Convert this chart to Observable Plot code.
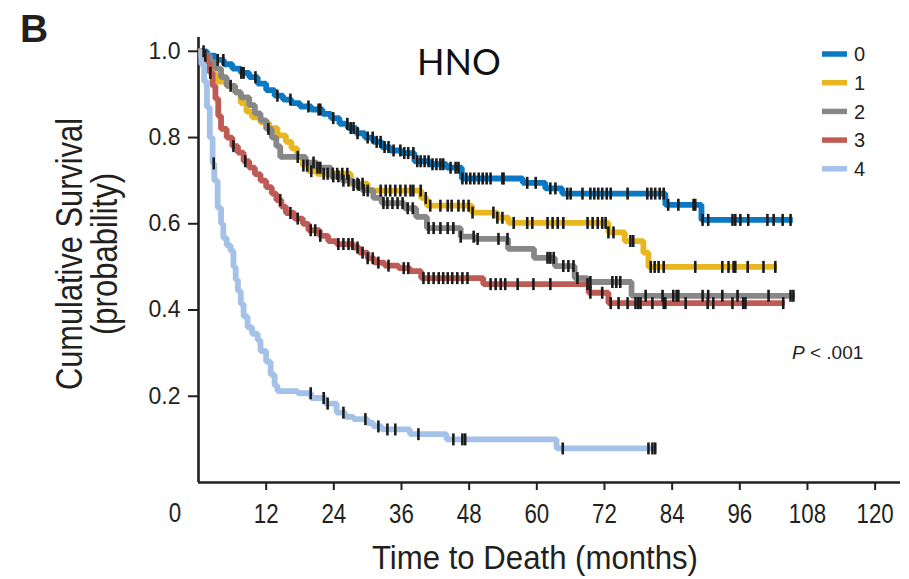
<!DOCTYPE html>
<html>
<head>
<meta charset="utf-8">
<script src="https://cdn.jsdelivr.net/npm/d3@7"></script>
<script src="https://cdn.jsdelivr.net/npm/@observablehq/plot@0.6"></script>
<style>
  html, body { margin: 0; padding: 0; background: #fff; }
  #chart svg { display: block; }
</style>
</head>
<body>
<div id="chart"></div>
<script>
// ---------- data ----------
const groups = ["0", "1", "2", "3", "4"];
const xTicks = [12, 24, 36, 48, 60, 72, 84, 96, 108, 120];
const yTicks = [0.2, 0.4, 0.6, 0.8, 1.0];

// group 0
const time0 = [0, 1.5, 3, 4.5, 6, 7.5, 9, 10.5, 12, 13.5, 15, 16.5, 18, 20, 22, 23.5, 25, 26.5, 28, 29.5, 31, 32.5, 34, 36, 38.3, 41, 44, 46.7, 57.5, 61.5, 64.5, 82.8, 89.2];
const surv0 = [1, .99, .98, .97, .96, .95, .94, .925, .91, .897, .888, .88, .872, .865, .855, .845, .832, .822, .81, .8, .79, .778, .77, .764, .745, .738, .73, .705, .695, .682, .67, .644, .609];
const cens0 = [0.9, 3.4, 4.4, 7.6, 8.0, 10.1, 14.0, 16.3, 19.5, 21.3, 21.6, 23.9, 26.4, 27.0, 27.5, 28.2, 30.0, 30.9, 31.6, 32.3, 33.0, 33.7, 34.6, 35.8, 36.5, 37.2, 38.1, 38.8, 39.4, 40.1, 40.8, 41.5, 42.2, 42.9, 43.4, 44.7, 45.6, 46.1, 46.8, 47.5, 48.2, 48.9, 49.7, 50.4, 51.1, 51.8, 53.9, 54.1, 58.3, 59.8, 62.4, 63.3, 65.4, 66.0, 68.1, 69.5, 70.2, 70.9, 71.6, 72.4, 73.1, 76.1, 79.6, 80.3, 81.0, 81.8, 82.5, 83.3, 85.1, 87.8, 88.1, 89.4, 90.4, 94.7, 95.2, 96.1, 97.5, 100.9, 102.0, 103.6, 105.0];
const last0 = 105.4;

// group 1
const time1 = [0, 0.5, 1.2, 2.5, 3.3, 5, 6.5, 7.5, 8.5, 9.5, 11, 12.5, 14, 15.5, 16.5, 17.5, 18.5, 19.5, 21, 27, 30, 39.5, 40.5, 48.5, 53, 55, 72.7, 75.6, 78.9, 79.8];
const surv1 = [1, .985, .96, .945, .93, .92, .905, .88, .86, .847, .835, .822, .805, .79, .775, .755, .735, .722, .716, .693, .677, .66, .642, .626, .614, .602, .58, .56, .533, .50];
const cens1 = [17.6, 18.6, 19.3, 20.0, 22.2, 22.9, 23.8, 24.6, 25.5, 26.4, 28.2, 29.1, 30.0, 32.3, 33.2, 34.0, 34.9, 35.8, 36.7, 37.6, 38.1, 39.4, 40.3, 41.1, 42.9, 44.2, 44.9, 46.1, 47.0, 47.9, 48.6, 52.3, 53.0, 53.9, 55.9, 58.3, 59.2, 61.9, 62.8, 63.7, 64.7, 69.0, 69.9, 70.8, 71.6, 72.2, 72.7, 73.6, 76.6, 77.1, 80.2, 80.9, 81.6, 82.5, 88.1, 92.9, 94.0, 94.9, 95.2, 97.4, 100.2, 102.3];
const last1 = 102.6;

// group 2
const time2 = [0, 1, 2, 3, 4, 5, 6.5, 7.5, 9, 10, 11, 12, 13, 13.8, 14.5, 19, 21, 23.5, 25.5, 27.5, 29, 31, 32.5, 36.5, 38.6, 40.5, 46.5, 49, 54.9, 59.5, 63.2, 66.7, 69, 76.8];
const surv2 = [1, .99, .975, .96, .94, .92, .905, .893, .875, .856, .84, .82, .8, .78, .755, .742, .73, .71, .70, .69, .678, .66, .648, .636, .616, .59, .57, .565, .542, .521, .502, .474, .465, .433];
const cens2 = [1.2, 5.7, 12.4, 20.4, 21.1, 21.6, 23.9, 24.8, 25.7, 26.6, 27.5, 28.4, 29.3, 32.8, 33.5, 34.4, 35.3, 36.2, 37.1, 38.0, 40.8, 41.7, 42.9, 44.2, 45.2, 46.5, 48.8, 49.5, 53.2, 54.8, 61.9, 62.4, 63.0, 64.7, 65.6, 66.5, 67.2, 69.5, 73.4, 74.1, 74.8, 79.3, 82.3, 84.2, 84.8, 85.1, 89.4, 90.4, 92.9, 95.6, 101.1, 105.0, 105.5];
const last2 = 105.8;

// group 3
const time3 = [0, 0.8, 1.5, 2, 2.5, 3, 3.5, 4, 5, 6, 7, 8, 9, 10, 11, 12, 13, 13.8, 14.7, 15.5, 17, 18.5, 19.5, 21.5, 23, 24.5, 27.5, 28.5, 30, 31.2, 33, 35.5, 37.5, 39.5, 50.5, 69.2, 72.7];
const surv3 = [1, .99, .97, .95, .92, .89, .85, .82, .8, .78, .765, .745, .73, .715, .70, .685, .67, .655, .64, .625, .612, .60, .585, .572, .56, .553, .545, .533, .52, .51, .503, .497, .49, .474, .46, .44, .416];
const cens3 = [2.1, 6.2, 8.3, 14.5, 16.3, 17.6, 19.9, 20.7, 21.6, 24.8, 25.7, 26.6, 27.3, 28.2, 29.1, 30.0, 30.9, 31.9, 33.7, 36.4, 37.2, 39.9, 40.8, 41.7, 42.6, 43.4, 44.2, 45.0, 45.9, 46.8, 47.7, 51.8, 52.7, 53.6, 54.4, 56.6, 59.4, 62.4, 69.0, 69.5, 71.6, 73.1, 74.5, 76.1, 77.5, 78.0, 78.4, 80.5, 82.5, 82.8, 86.4, 90.3, 91.3, 94.7, 96.6, 97.0, 103.7];
const last3 = 104.0;

// group 4
const time4 = [0, 0.5, 1, 1.5, 2, 2.5, 2.8, 3.4, 4, 4.4, 5, 5.7, 6.2, 6.6, 7, 7.5, 8, 8.7, 9.5, 10.5, 11, 12, 12.8, 13.5, 14, 17.6, 20, 22.5, 24.5, 26, 27.5, 30, 31, 32.5, 37.5, 44, 63.5];
const surv4 = [1, .97, .93, .87, .8, .74, .70, .637, .6, .567, .55, .537, .5, .47, .444, .414, .385, .36, .345, .33, .305, .28, .25, .225, .212, .207, .196, .183, .162, .152, .147, .138, .13, .123, .112, .10, .079];
const cens4 = [2.7, 19.9, 22.2, 22.9, 25.7, 29.6, 31.9, 33.5, 34.9, 39.0, 45.2, 46.8, 47.3, 64.6, 79.8, 80.5, 81.0];
const last4 = 81.2;

// ---------- styles ----------
const palette = ["#0a78c2", "#e8b61e", "#878787", "#bf5b55", "#a4c2e7"];
const ink = "#231f20";
const sansFont = "'Liberation Sans', Arial, Helvetica, sans-serif";

// ---------- build tables ----------
const series = [
  {g: groups[0], t: time0, s: surv0, c: cens0, end: last0},
  {g: groups[1], t: time1, s: surv1, c: cens1, end: last1},
  {g: groups[2], t: time2, s: surv2, c: cens2, end: last2},
  {g: groups[3], t: time3, s: surv3, c: cens3, end: last3},
  {g: groups[4], t: time4, s: surv4, c: cens4, end: last4}
];
function survAt(d, t) {
  let v = 1;
  for (let i = 0; i < d.t.length; i++) if (d.t[i] <= t) v = d.s[i];
  return v;
}
const lineData = series.flatMap(d => [
  ...d.t.map((t, i) => ({g: d.g, t, s: d.s[i]})),
  {g: d.g, t: d.end, s: d.s[d.s.length - 1]}
]);
const censData = series.flatMap(d => d.c.map(t => ({g: d.g, t, s: survAt(d, t)})));

const censorSymbol = {
  draw(context, size) {
    const h = Math.sqrt(size / Math.PI);
    context.moveTo(0, -h);
    context.lineTo(0, h);
  }
};

const chart = Plot.plot({
  width: 909,
  height: 579,
  marginLeft: 198,
  marginRight: 9,
  marginTop: 37,
  marginBottom: 97,
  style: {fontFamily: sansFont, fontSize: "23px", color: ink, background: "#fff", overflow: "visible"},
  x: {domain: [0, 124.5], ticks: xTicks, tickSize: 8, tickPadding: 13, tickFormat: d => String(d), label: null},
  y: {domain: [0, 1.032], ticks: yTicks, tickSize: 10, tickPadding: 8, tickFormat: d3.format(".1f"), label: null},
  color: {domain: groups, range: palette},
  marks: [
    Plot.ruleX([0], {stroke: ink, strokeWidth: 2.6}),
    Plot.ruleY([0], {stroke: ink, strokeWidth: 2.6}),
    Plot.line(lineData, {x: "t", y: "s", z: "g", stroke: "g", curve: "step-after", strokeWidth: 5.8, strokeLinejoin: "miter", strokeLinecap: "butt"}),
    Plot.dot(censData, {x: "t", y: "s", symbol: censorSymbol, r: 6, stroke: "#1b1b1b", strokeWidth: 2.6, fill: "none"})
  ]
});

document.getElementById("chart").appendChild(chart);

// ---------- axis text styling ----------
const svg = d3.select(chart);
svg.selectAll('[aria-label^="x-axis"] line, [aria-label^="x-axis"] path, [aria-label^="y-axis"] line, [aria-label^="y-axis"] path')
  .style("stroke-width", "2px");
svg.selectAll('[aria-label^="x-axis"] text')
  .style("font-size", "27px")
  .each(function() {
    const s = d3.select(this);
    const n = s.text().length;
    s.attr("textLength", n * 12.4).attr("lengthAdjust", "spacingAndGlyphs");
  });

const xs = chart.scale("x");

// "0" label under the origin
svg.append("text")
  .attr("x", xs.apply(0) - 23)
  .attr("y", 522)
  .attr("text-anchor", "middle")
  .attr("font-size", 27)
  .attr("textLength", 12.4)
  .attr("lengthAdjust", "spacingAndGlyphs")
  .attr("fill", ink)
  .text("0");

// axis titles
svg.append("text")
  .attr("x", 535)
  .attr("y", 569)
  .attr("text-anchor", "middle")
  .attr("font-size", 34)
  .attr("textLength", 326)
  .attr("lengthAdjust", "spacingAndGlyphs")
  .attr("fill", ink)
  .text("Time to Death (months)");

const yt = svg.append("g").attr("transform", "translate(0,254) rotate(-90)");
yt.append("text")
  .attr("x", 0).attr("y", 82)
  .attr("text-anchor", "middle")
  .attr("font-size", 36)
  .attr("textLength", 272)
  .attr("lengthAdjust", "spacingAndGlyphs")
  .attr("fill", ink)
  .text("Cumulative Survival");
yt.append("text")
  .attr("x", 0).attr("y", 117)
  .attr("text-anchor", "middle")
  .attr("font-size", 36)
  .attr("textLength", 162)
  .attr("lengthAdjust", "spacingAndGlyphs")
  .attr("fill", ink)
  .text("(probability)");

// panel letter and title
svg.append("text")
  .attr("x", 20).attr("y", 42)
  .attr("text-anchor", "start")
  .attr("font-size", 39).attr("font-weight", "bold")
  .attr("fill", ink)
  .text("B");
svg.append("text")
  .attr("x", 459).attr("y", 75)
  .attr("text-anchor", "middle")
  .attr("font-family", "Lato, 'Open Sans', sans-serif")
  .attr("font-size", 36)
  .attr("fill", "#111")
  .text("HNO");

// p-value
const pv = svg.append("text")
  .attr("x", 792).attr("y", 359)
  .attr("text-anchor", "start")
  .attr("font-size", 19)
  .attr("fill", ink);
pv.append("tspan").attr("font-style", "italic").text("P");
pv.append("tspan").text(" < .001");

// legend
const leg = svg.append("g");
groups.forEach((g, i) => {
  const y = 54 + i * 28.7;
  leg.append("line")
    .attr("x1", 822).attr("x2", 847)
    .attr("y1", y).attr("y2", y)
    .attr("stroke", palette[i]).attr("stroke-width", 5.5);
  leg.append("text")
    .attr("x", 854).attr("y", y)
    .attr("dy", "0.36em")
    .attr("text-anchor", "start")
    .attr("font-size", 20)
    .attr("fill", ink)
    .text(g);
});
</script>
</body>
</html>
